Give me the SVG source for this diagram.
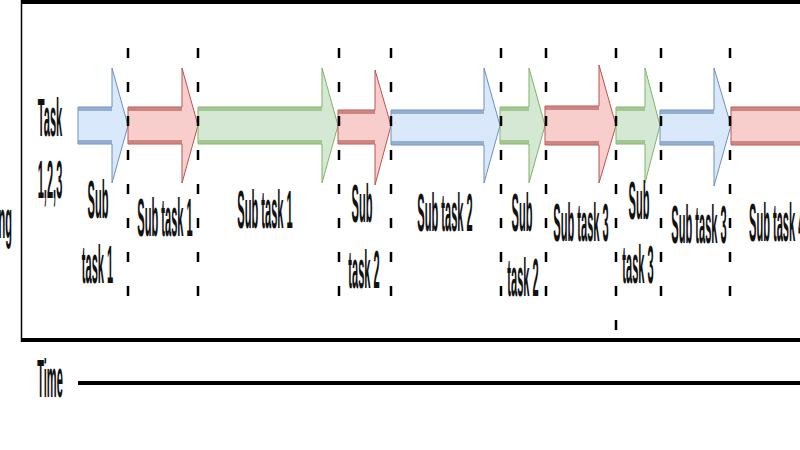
<svg xmlns="http://www.w3.org/2000/svg" width="800" height="450" viewBox="0 0 800 450">
<defs>
<style>
.blue{fill:#dae8fc;stroke:#6c8ebf;stroke-width:1}
.red{fill:#f8cecc;stroke:#b85450;stroke-width:1}
.green{fill:#d5e8d4;stroke:#82b366;stroke-width:1}
.bb{stroke:#7f9cc6;stroke-width:4;opacity:0.75}
.br{stroke:#c06e6a;stroke-width:4;opacity:0.75}
.bg{stroke:#93bd7c;stroke-width:4;opacity:0.75}
.lbl{font-family:"Liberation Sans",Arial,sans-serif;font-size:54px;font-weight:bold;text-anchor:middle;fill:#111}
.sep{stroke:#000;stroke-width:2.5;stroke-dasharray:10 24}
.frame{stroke:#000;fill:none}
</style>
</defs>
<rect width="800" height="450" fill="#fff"/>
<g id="frame">
<line class="frame" x1="21" y1="2" x2="800" y2="2" stroke-width="4"/>
<line class="frame" x1="21.5" y1="0" x2="21.5" y2="342" stroke-width="1.5"/>
<line class="frame" x1="21" y1="340" x2="800" y2="340" stroke-width="4"/>
</g>
<g id="label-task">
<text class="lbl" transform="translate(50,136) scale(0.205,1)">Task</text>
<text class="lbl" transform="translate(50,198) scale(0.205,1)">1,2,3</text>
</g>
<g id="label-ng">
<text class="lbl" style="text-anchor:end" transform="translate(12,238) scale(0.205,1)">ng</text>
</g>
<g id="a1">
<polygon class="blue" points="78,107 112,107 112,68 128,125.5 112,183 112,144 78,144"/>
<line class="bb" x1="78" y1="109" x2="112" y2="109"/><line class="bb" x1="78" y1="142" x2="112" y2="142"/>
<text class="lbl" transform="translate(98,218) scale(0.205,1)">Sub</text>
<text class="lbl" transform="translate(97.5,283) scale(0.205,1)">task 1</text>
</g>
<g id="a2">
<polygon class="red" points="128,107 182,107 182,68 198,125.5 182,183 182,144 128,144"/>
<line class="br" x1="128" y1="109" x2="182" y2="109"/><line class="br" x1="128" y1="142" x2="182" y2="142"/>
<text class="lbl" transform="translate(165,236) scale(0.205,1)">Sub task 1</text>
</g>
<g id="a3">
<polygon class="green" points="198,107 322,107 322,68 338,125.5 322,183 322,144 198,144"/>
<line class="bg" x1="198" y1="109" x2="322" y2="109"/><line class="bg" x1="198" y1="142" x2="322" y2="142"/>
<text class="lbl" transform="translate(265,228) scale(0.205,1)">Sub task 1</text>
</g>
<g id="a4">
<polygon class="red" points="338,110 375,110 375,70 391,125.5 375,185 375,144 338,144"/>
<line class="br" x1="338" y1="112" x2="375" y2="112"/><line class="br" x1="338" y1="142" x2="375" y2="142"/>
<text class="lbl" transform="translate(362,222) scale(0.205,1)">Sub</text>
<text class="lbl" transform="translate(364,288) scale(0.205,1)">task 2</text>
</g>
<g id="a5">
<polygon class="blue" points="391,110 484,110 484,68 500,125.5 484,183 484,145 391,145"/>
<line class="bb" x1="391" y1="112" x2="484" y2="112"/><line class="bb" x1="391" y1="143" x2="484" y2="143"/>
<text class="lbl" transform="translate(445,231) scale(0.205,1)">Sub task 2</text>
</g>
<g id="a6">
<polygon class="green" points="500,107 529,107 529,68 545,125.5 529,183 529,144 500,144"/>
<line class="bg" x1="500" y1="109" x2="529" y2="109"/><line class="bg" x1="500" y1="142" x2="529" y2="142"/>
<text class="lbl" transform="translate(522,231) scale(0.205,1)">Sub</text>
<text class="lbl" transform="translate(523,296) scale(0.205,1)">task 2</text>
</g>
<g id="a7">
<polygon class="red" points="545,106 599,106 599,65 616,125.5 599,183 599,145 545,145"/>
<line class="br" x1="545" y1="108" x2="599" y2="108"/><line class="br" x1="545" y1="143" x2="599" y2="143"/>
<text class="lbl" transform="translate(581,241) scale(0.205,1)">Sub task 3</text>
</g>
<g id="a8">
<polygon class="green" points="616,107 645,107 645,68 660,125.5 645,183 645,144 616,144"/>
<line class="bg" x1="616" y1="109" x2="645" y2="109"/><line class="bg" x1="616" y1="142" x2="645" y2="142"/>
<text class="lbl" transform="translate(639,219) scale(0.205,1)">Sub</text>
<text class="lbl" transform="translate(638,283) scale(0.205,1)">task 3</text>
</g>
<g id="a9">
<polygon class="blue" points="660,110 714,110 714,68 731,125.5 714,186 714,145 660,145"/>
<line class="bb" x1="660" y1="112" x2="714" y2="112"/><line class="bb" x1="660" y1="143" x2="714" y2="143"/>
<text class="lbl" transform="translate(699,243) scale(0.205,1)">Sub task 3</text>
</g>
<g id="a10">
<polygon class="red" points="731,107 820,107 820,145 731,145"/>
<line class="br" x1="731" y1="109" x2="820" y2="109"/><line class="br" x1="731" y1="143" x2="820" y2="143"/>
<text class="lbl" style="text-anchor:start" transform="translate(749,241) scale(0.205,1)">Sub task 4</text>
</g>
<g id="separators">
<line class="sep" x1="128" y1="48" x2="128" y2="300"/>
<line class="sep" x1="198" y1="48" x2="198" y2="300"/>
<line class="sep" x1="339" y1="48" x2="339" y2="300"/>
<line class="sep" x1="391" y1="48" x2="391" y2="300"/>
<line class="sep" x1="501" y1="48" x2="501" y2="300"/>
<line class="sep" x1="546" y1="48" x2="546" y2="300"/>
<line class="sep" x1="616" y1="48" x2="616" y2="334"/>
<line class="sep" x1="661" y1="48" x2="661" y2="300"/>
<line class="sep" x1="730" y1="48" x2="730" y2="300"/>
</g>
<g id="time-axis">
<text class="lbl" transform="translate(50,397) scale(0.205,1)">Time</text>
<line class="frame" x1="78" y1="383" x2="800" y2="383" stroke-width="4"/>
</g>
</svg>
